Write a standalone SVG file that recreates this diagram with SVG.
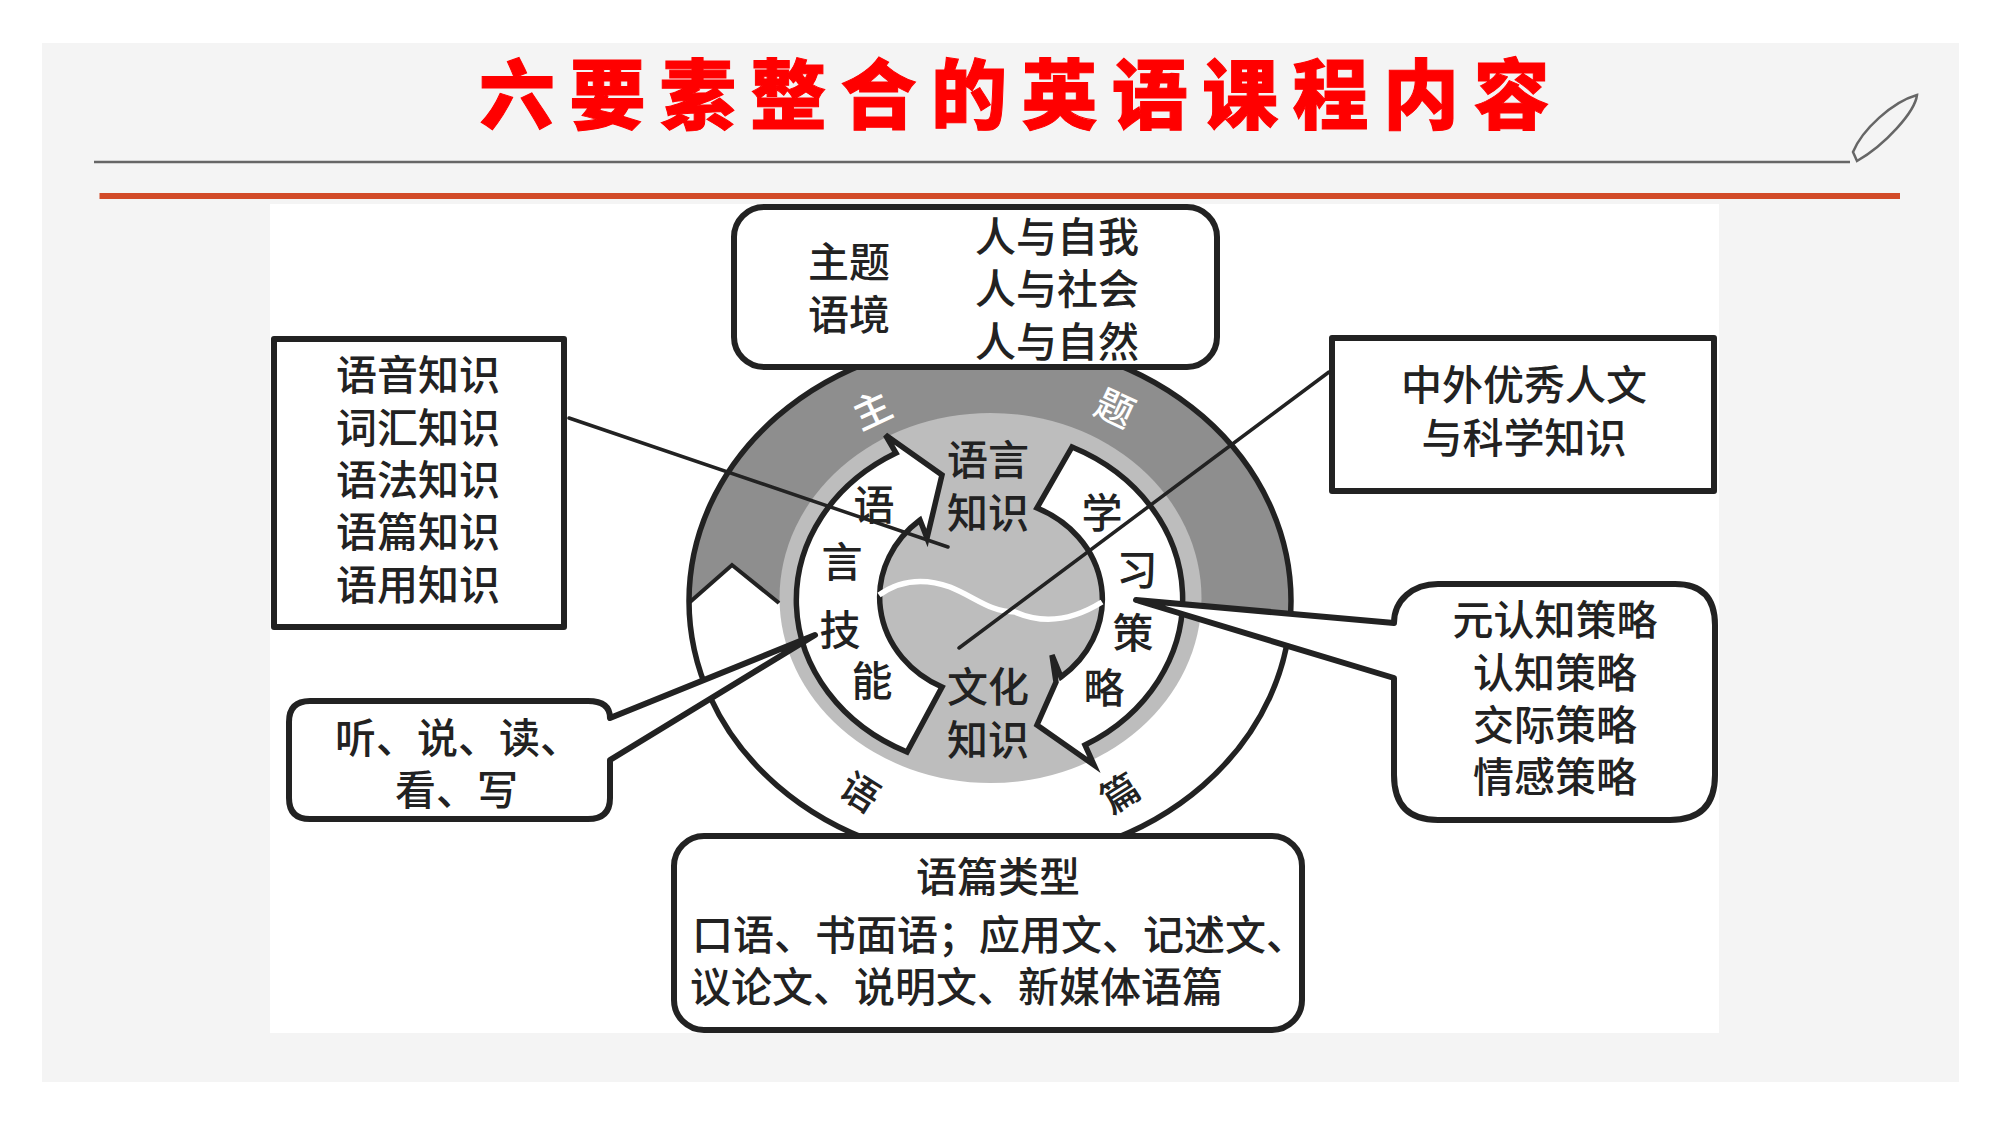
<svg xmlns="http://www.w3.org/2000/svg" width="2000" height="1125" viewBox="0 0 2000 1125">
<style>
text{font-family:"Noto Sans CJK SC","Noto Sans",sans-serif;font-size:41px;font-weight:500;fill:#222;text-anchor:middle}
.l{text-anchor:start}
.w{fill:#fff;font-size:38px}
.box{fill:#fff;stroke:#222;stroke-width:6;stroke-linejoin:round}
.ln{fill:none;stroke:#222;stroke-width:3.5;stroke-linecap:round}
.arr{fill:#fff;stroke:#222;stroke-width:5.5;stroke-linejoin:miter}
</style>
<defs><clipPath id="outer"><ellipse cx="990" cy="601" rx="301" ry="261"/></clipPath></defs>
<rect width="2000" height="1125" fill="#fff"/>
<rect x="42" y="43" width="1917" height="1039" fill="#f4f4f4"/>
<g id="title-bar">
<text class="l" x="479" y="123" style="font-size:76px;font-weight:900;fill:#f00;letter-spacing:14.4px;stroke:#f00;stroke-width:1">六要素整合的英语课程内容</text>
<path d="M94 162H1850" fill="none" stroke="#666" stroke-width="2.5"/>
<path d="M1853 152C1862 130 1892 102 1917 95C1915 112 1885 145 1857 161Z" fill="none" stroke="#666" stroke-width="2.5"/>
<rect x="99.500" y="193" width="1800.500" height="6" fill="#d24a28"/>
</g>
<rect x="270" y="204" width="1449" height="829" fill="#fff"/>
<g id="theme-ring">
<path d="M686 604L686 300L1300 300L1300 620L1200 606L779 603L732 565Z" fill="#8e8e8e" clip-path="url(#outer)"/>
<ellipse cx="990.500" cy="598" rx="211" ry="185" fill="#bdbdbd"/>
<ellipse cx="990" cy="601" rx="301" ry="261" fill="none" stroke="#222" stroke-width="5.500"/>
<path d="M690 602L732 565L779 603" fill="none" stroke="#222" stroke-width="4"/>
<text class="w" transform="translate(872 410) rotate(-25)" y="14">主</text>
<text class="w" transform="translate(1115 408) rotate(25)" y="14">题</text>
<text style="font-size:38px" transform="translate(860 792) rotate(32)" y="14">语</text>
<text style="font-size:38px" transform="translate(1120 793) rotate(-32)" y="14">篇</text>
</g>
<g id="language-skills">
<path class="arr" d="M907 752A193 168 0 0 1 896 453L885.500 435L942 475L927 538L920 520A111 100 0 0 0 942 687Z"/>
<text x="874" y="520">语</text><text x="842" y="577">言</text><text x="840" y="645">技</text><text x="872" y="696">能</text>
</g>
<g id="learning-strategies">
<path class="arr" d="M1072 447L1037 508A111 100 0 0 1 1061 677L1052 655L1056 682L1037 725L1094 765L1085 745A193 168 0 0 0 1072 447Z"/>
<text x="1102" y="528">学</text><text x="1137" y="585">习</text><text x="1133" y="648">策</text><text x="1104" y="703">略</text>
</g>
<g id="core">
<path d="M879 595C900 580 925 578 950 587C975 597 990 612 1015 612C1040 623 1070 622 1102 602" fill="none" stroke="#fff" stroke-width="5.500"/>
<text x="988" y="475">语言</text><text x="988" y="528">知识</text>
<text x="988" y="702">文化</text><text x="988" y="755">知识</text>
</g>
<g id="theme-box">
<rect class="box" x="734" y="207" width="483" height="160" rx="30"/>
<text x="849" y="277">主题</text><text x="849" y="330">语境</text>
<text x="1057" y="252">人与自我</text><text x="1057" y="304">人与社会</text><text x="1057" y="357">人与自然</text>
</g>
<g id="text-type-box">
<rect class="box" x="674" y="836" width="628" height="194" rx="30"/>
<text x="998" y="892">语篇类型</text>
<text class="l" x="692" y="950">口语、书面语；应用文、记述文、</text>
<text class="l" x="690" y="1002">议论文、说明文、新媒体语篇</text>
</g>
<g id="language-knowledge">
<rect class="box" x="274" y="339" width="290" height="288"/>
<text x="418" y="390">语音知识</text><text x="418" y="443">词汇知识</text><text x="418" y="495">语法知识</text><text x="418" y="547">语篇知识</text><text x="418" y="600">语用知识</text>
</g>
<g id="culture-knowledge">
<rect class="box" x="1332" y="338" width="382" height="153"/>
<text x="1524" y="400">中外优秀人文</text><text x="1524" y="453">与科学知识</text>
</g>
<g id="connectors">
<path class="ln" d="M569 418L948 547"/>
<path class="ln" d="M1329 372L959 648"/>
</g>
<g id="skills-callout">
<path class="box" d="M815 635L610 718C610 705 600 701 588 701L310 701Q289 701 289 722L289 798Q289 819 310 819L588 819Q610 819 610 798L610 760Z"/>
<text class="l" x="335" y="753">听、说、读、</text><text class="l" x="395" y="805">看、写</text>
</g>
<g id="strategy-callout">
<path class="box" d="M1136 600L1394 623C1394 600 1413 584 1438 584L1675 584Q1715 584 1715 625L1715 775Q1715 820 1670 820L1438 820Q1394 820 1394 775L1394 678Z"/>
<text x="1555" y="635">元认知策略</text><text x="1555" y="688">认知策略</text><text x="1555" y="740">交际策略</text><text x="1555" y="792">情感策略</text>
</g>
</svg>
